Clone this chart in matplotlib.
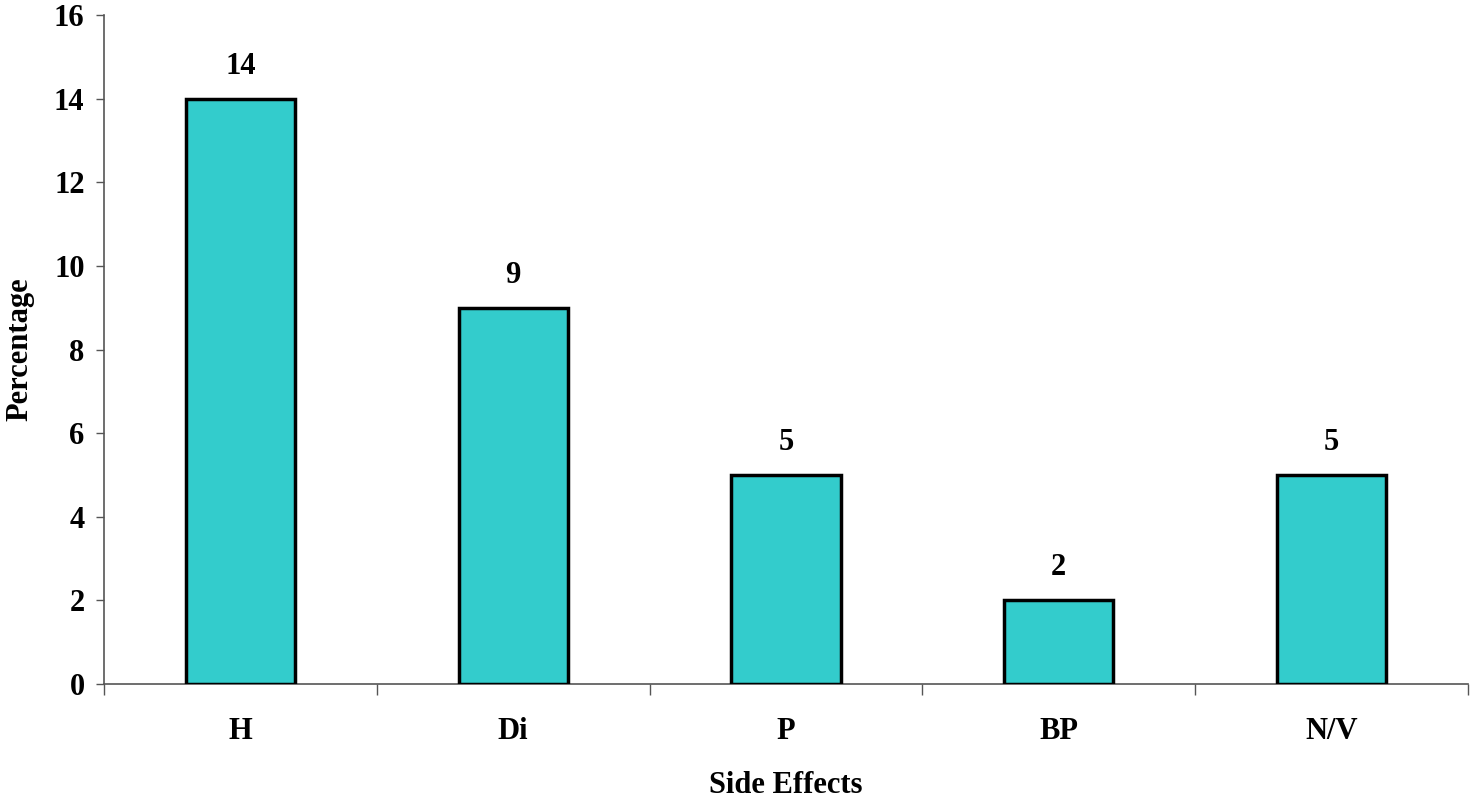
import numpy as np
import matplotlib
matplotlib.use('Agg')
import matplotlib.pyplot as plt
from matplotlib.ticker import FixedLocator

# 副作用数据
categories = ['H', 'Di', 'P', 'BP', 'N/V']
percentages = [14, 9, 5, 2, 5]

plt.rcParams['font.family'] = ['Liberation Serif', 'DejaVu Serif']
plt.rcParams['font.weight'] = 'bold'

fig = plt.figure(figsize=(14.73, 8.02), dpi=100)
ax = fig.add_axes([0.0706, 0.1471, 0.926, 0.8342])

x = np.arange(len(categories))
ax.bar(x, percentages, width=0.4, color='#33CCCC', edgecolor='black', linewidth=2.5, zorder=3)

# 柱顶数值
for xi, v in zip(x, percentages):
    ax.annotate(str(v), (xi, v), xytext=(0, 13), textcoords='offset points',
                ha='center', va='bottom', fontsize=22, fontweight='bold')

ax.set_xlim(-0.5, len(categories) - 0.5)
ax.set_ylim(0, 16)
ax.set_yticks(range(0, 17, 2))
ax.set_xticks(x)
ax.set_xticklabels(categories, fontsize=22, fontweight='bold')
ax.xaxis.set_minor_locator(FixedLocator(np.arange(-0.5, len(categories), 1)))
ax.tick_params(axis='x', which='major', length=0, pad=24)
ax.tick_params(axis='x', which='minor', length=8, width=1, color='#555555', direction='out')
ax.tick_params(axis='y', length=6, width=1, color='#555555', labelsize=22, pad=8)
for lab in ax.get_yticklabels():
    lab.set_fontweight('bold')

for side in ['top', 'right']:
    ax.spines[side].set_visible(False)
for side in ['left', 'bottom']:
    ax.spines[side].set_color('#555555')
    ax.spines[side].set_linewidth(1.2)

ax.set_xlabel('Side Effects', fontsize=22, fontweight='bold', labelpad=18)
ax.set_ylabel('Percentage', fontsize=22, fontweight='bold', labelpad=14)

plt.savefig('out.png', dpi=100)
